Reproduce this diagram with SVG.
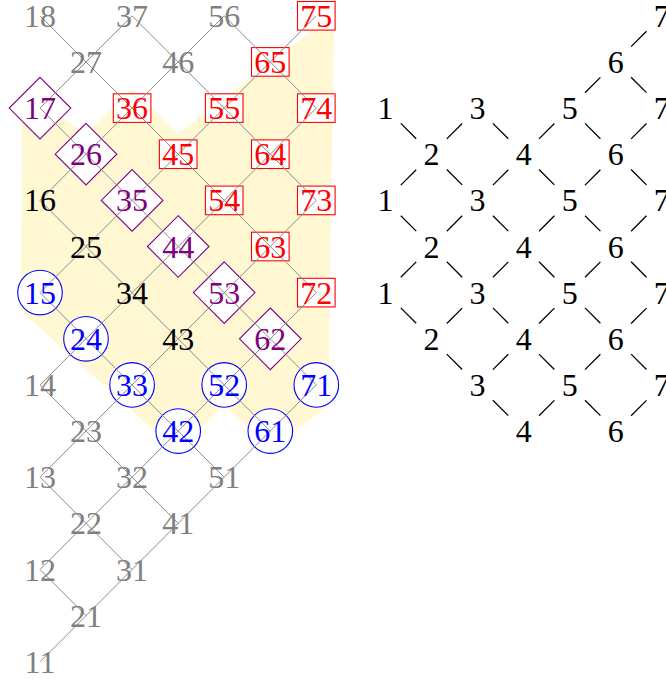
<svg xmlns="http://www.w3.org/2000/svg" width="666" height="679" viewBox="0 0 666 679">
<style>
text{font-family:"Liberation Serif","Times New Roman",serif;font-size:32px;text-anchor:middle}
.g{fill:#808080}.k{fill:#000}.r{fill:#ff0000}.p{fill:#800080}.b{fill:#0000ff}
.box{fill:#fff;stroke:#ff0000;stroke-width:1.1}
.dia{fill:#fff;stroke:#800080;stroke-width:1.1}
.cir{fill:#fff;stroke:#0000ff;stroke-width:1.1}
.edge{fill:none;stroke:#8c8c8c;stroke-width:1}
.dash{fill:none;stroke:#000;stroke-width:1.3}
</style>
<defs>
<rect id="bx" class="box" x="-18.8" y="-14.3" width="37.6" height="28.6"/>
<path id="dm" class="dia" d="M0,-30.8 L30.8,0 L0,30.8 L-30.8,0 Z"/>
<circle id="cc" class="cir" r="22.3"/>
</defs>
<polygon id="region" fill="#fff8d3" points="22,89 86,134 132,89 178,134 334,14 328,406 270,450 224,405 178,452 21,311"/>
<g id="shapes">
<use href="#bx" x="316.3" y="15.8"/><use href="#bx" x="270.3" y="61.9"/><use href="#bx" x="132.1" y="108.1"/><use href="#bx" x="224.2" y="108.1"/><use href="#bx" x="316.3" y="108.1"/><use href="#bx" x="178.2" y="154.2"/><use href="#bx" x="270.3" y="154.2"/><use href="#bx" x="224.2" y="200.4"/><use href="#bx" x="316.3" y="200.4"/><use href="#bx" x="270.3" y="246.5"/><use href="#bx" x="316.3" y="292.6"/>
<use href="#dm" x="40" y="108.1"/><use href="#dm" x="86" y="154.2"/><use href="#dm" x="132.1" y="200.4"/><use href="#dm" x="178.2" y="246.5"/><use href="#dm" x="224.2" y="292.6"/><use href="#dm" x="270.3" y="338.8"/>
<use href="#cc" x="40" y="292.6"/><use href="#cc" x="86" y="338.8"/><use href="#cc" x="132.1" y="384.9"/><use href="#cc" x="178.2" y="431.1"/><use href="#cc" x="224.2" y="384.9"/><use href="#cc" x="270.3" y="431.1"/><use href="#cc" x="316.3" y="384.9"/>
</g>
<g id="connectors">
<path class="edge" d="M40,661.8L316.3,384.9M40,569.5L316.3,292.6M40,477.2L316.3,200.4M40,384.9L316.3,108.1M40,292.6L316.3,15.8M40,200.4L224.2,15.8M40,108.1L132.1,15.8M40,569.5L86,615.6M40,477.2L132.1,569.5M40,384.9L178.2,523.3M40,292.6L224.2,477.2M40,200.4L270.3,431.1M40,108.1L316.3,384.9M40,15.8L316.3,292.6M132.1,15.8L316.3,200.4M224.2,15.8L316.3,108.1"/>
<path class="dash" d="M400.8,185.1l15.4,-15.4M446.8,138.9l15.4,-15.4M400.8,277.3l15.4,-15.4M446.8,231.2l15.4,-15.4M492.9,185.1l15.4,-15.4M539,138.9l15.4,-15.4M585,92.8l15.4,-15.4M631.1,46.6l15.4,-15.4M446.8,323.5l15.4,-15.4M492.9,277.3l15.4,-15.4M539,231.2l15.4,-15.4M585,185.1l15.4,-15.4M631.1,138.9l15.4,-15.4M492.9,369.6l15.4,-15.4M539,323.5l15.4,-15.4M585,277.3l15.4,-15.4M631.1,231.2l15.4,-15.4M539,415.8l15.4,-15.4M585,369.6l15.4,-15.4M631.1,323.5l15.4,-15.4M631.1,415.8l15.4,-15.4M400.8,123.4l15.4,15.4M446.8,169.5l15.4,15.4M492.9,215.7l15.4,15.4M539,261.8l15.4,15.4M585,307.9l15.4,15.4M631.1,354.1l15.4,15.4M400.8,215.7l15.4,15.4M446.8,261.8l15.4,15.4M492.9,307.9l15.4,15.4M539,354.1l15.4,15.4M585,400.2l15.4,15.4M400.8,307.9l15.4,15.4M446.8,354.1l15.4,15.4M492.9,400.2l15.4,15.4M492.9,123.4l15.4,15.4M539,169.5l15.4,15.4M585,215.7l15.4,15.4M631.1,261.8l15.4,15.4M585,123.4l15.4,15.4M631.1,169.5l15.4,15.4M631.1,77.2l15.4,15.4"/>
</g>
<g id="left-labels">
<g id="n18"><text class="g" x="40" y="26.8">18</text></g>
<g id="n37"><text class="g" x="132.1" y="26.8">37</text></g>
<g id="n56"><text class="g" x="224.2" y="26.8">56</text></g>
<g id="n75"><text class="r" x="316.3" y="26.8">75</text></g>
<g id="n27"><text class="g" x="86" y="72.9">27</text></g>
<g id="n46"><text class="g" x="178.2" y="72.9">46</text></g>
<g id="n65"><text class="r" x="270.3" y="72.9">65</text></g>
<g id="n17"><text class="p" x="40" y="119.1">17</text></g>
<g id="n36"><text class="r" x="132.1" y="119.1">36</text></g>
<g id="n55"><text class="r" x="224.2" y="119.1">55</text></g>
<g id="n74"><text class="r" x="316.3" y="119.1">74</text></g>
<g id="n26"><text class="p" x="86" y="165.2">26</text></g>
<g id="n45"><text class="r" x="178.2" y="165.2">45</text></g>
<g id="n64"><text class="r" x="270.3" y="165.2">64</text></g>
<g id="n16"><text class="k" x="40" y="211.4">16</text></g>
<g id="n35"><text class="p" x="132.1" y="211.4">35</text></g>
<g id="n54"><text class="r" x="224.2" y="211.4">54</text></g>
<g id="n73"><text class="r" x="316.3" y="211.4">73</text></g>
<g id="n25"><text class="k" x="86" y="257.5">25</text></g>
<g id="n44"><text class="p" x="178.2" y="257.5">44</text></g>
<g id="n63"><text class="r" x="270.3" y="257.5">63</text></g>
<g id="n15"><text class="b" x="40" y="303.6">15</text></g>
<g id="n34"><text class="k" x="132.1" y="303.6">34</text></g>
<g id="n53"><text class="p" x="224.2" y="303.6">53</text></g>
<g id="n72"><text class="r" x="316.3" y="303.6">72</text></g>
<g id="n24"><text class="b" x="86" y="349.8">24</text></g>
<g id="n43"><text class="k" x="178.2" y="349.8">43</text></g>
<g id="n62"><text class="p" x="270.3" y="349.8">62</text></g>
<g id="n14"><text class="g" x="40" y="395.9">14</text></g>
<g id="n33"><text class="b" x="132.1" y="395.9">33</text></g>
<g id="n52"><text class="b" x="224.2" y="395.9">52</text></g>
<g id="n71"><text class="b" x="316.3" y="395.9">71</text></g>
<g id="n23"><text class="g" x="86" y="442.1">23</text></g>
<g id="n42"><text class="b" x="178.2" y="442.1">42</text></g>
<g id="n61"><text class="b" x="270.3" y="442.1">61</text></g>
<g id="n13"><text class="g" x="40" y="488.2">13</text></g>
<g id="n32"><text class="g" x="132.1" y="488.2">32</text></g>
<g id="n51"><text class="g" x="224.2" y="488.2">51</text></g>
<g id="n22"><text class="g" x="86" y="534.3">22</text></g>
<g id="n41"><text class="g" x="178.2" y="534.3">41</text></g>
<g id="n12"><text class="g" x="40" y="580.5">12</text></g>
<g id="n31"><text class="g" x="132.1" y="580.5">31</text></g>
<g id="n21"><text class="g" x="86" y="626.6">21</text></g>
<g id="n11"><text class="g" x="40" y="672.8">11</text></g>
</g>
<g id="right-labels" class="k">
<g id="m75"><text x="661.8" y="26.8">7</text></g>
<g id="m65"><text x="615.8" y="72.9">6</text></g>
<g id="m17"><text x="385.5" y="119.1">1</text></g>
<g id="m36"><text x="477.6" y="119.1">3</text></g>
<g id="m55"><text x="569.7" y="119.1">5</text></g>
<g id="m74"><text x="661.8" y="119.1">7</text></g>
<g id="m26"><text x="431.5" y="165.2">2</text></g>
<g id="m45"><text x="523.7" y="165.2">4</text></g>
<g id="m64"><text x="615.8" y="165.2">6</text></g>
<g id="m16"><text x="385.5" y="211.4">1</text></g>
<g id="m35"><text x="477.6" y="211.4">3</text></g>
<g id="m54"><text x="569.7" y="211.4">5</text></g>
<g id="m73"><text x="661.8" y="211.4">7</text></g>
<g id="m25"><text x="431.5" y="257.5">2</text></g>
<g id="m44"><text x="523.7" y="257.5">4</text></g>
<g id="m63"><text x="615.8" y="257.5">6</text></g>
<g id="m15"><text x="385.5" y="303.6">1</text></g>
<g id="m34"><text x="477.6" y="303.6">3</text></g>
<g id="m53"><text x="569.7" y="303.6">5</text></g>
<g id="m72"><text x="661.8" y="303.6">7</text></g>
<g id="m24"><text x="431.5" y="349.8">2</text></g>
<g id="m43"><text x="523.7" y="349.8">4</text></g>
<g id="m62"><text x="615.8" y="349.8">6</text></g>
<g id="m33"><text x="477.6" y="395.9">3</text></g>
<g id="m52"><text x="569.7" y="395.9">5</text></g>
<g id="m71"><text x="661.8" y="395.9">7</text></g>
<g id="m42"><text x="523.7" y="442.1">4</text></g>
<g id="m61"><text x="615.8" y="442.1">6</text></g>
</g>
</svg>
